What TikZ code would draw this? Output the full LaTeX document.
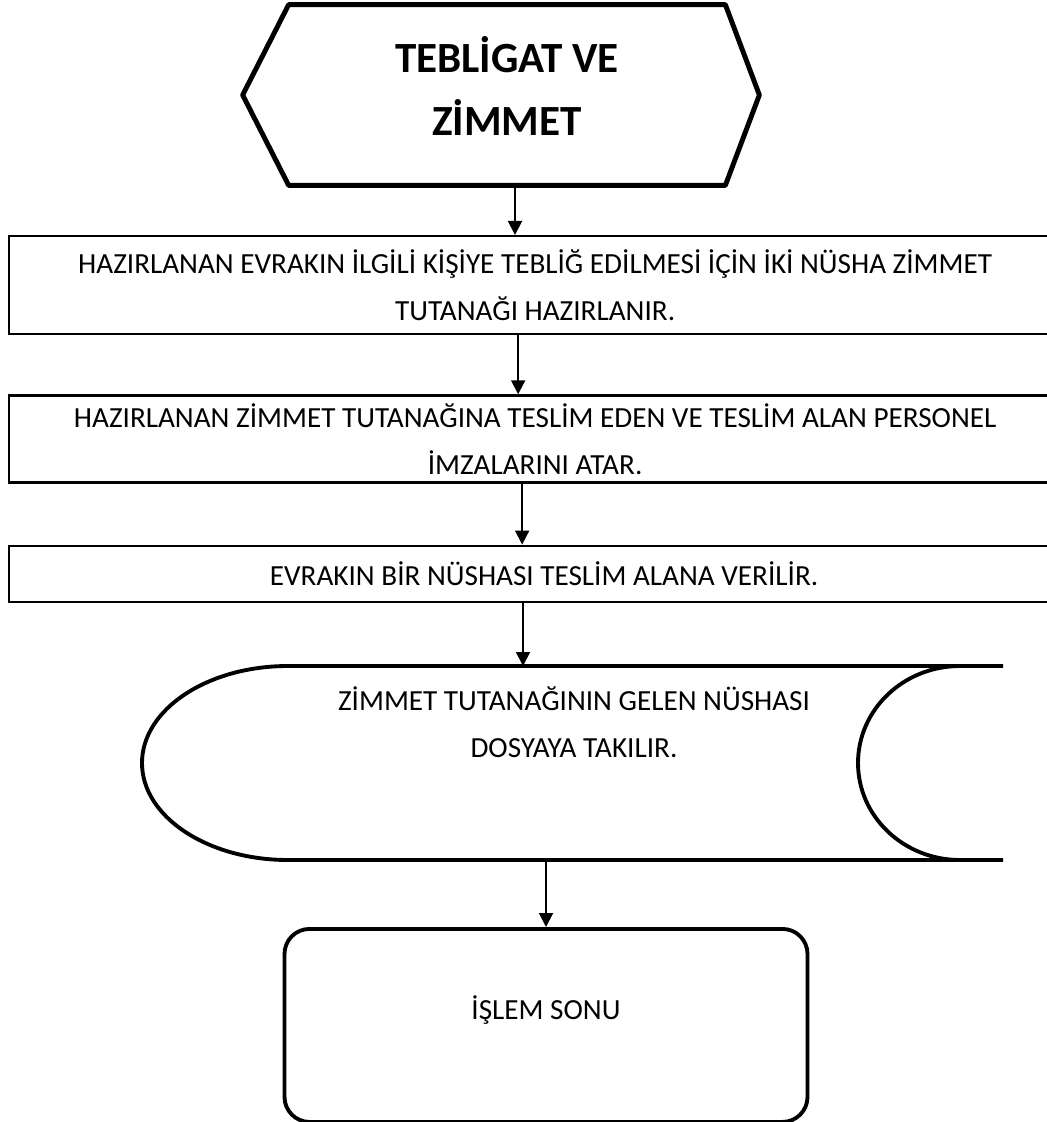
\documentclass[tikz,border=0pt]{standalone}
\usepackage{fontspec}
\setmainfont{Carlito}
\usepackage{tikz}
\usetikzlibrary{positioning}
\usetikzlibrary{arrows.meta}

\begin{document}
\begin{tikzpicture}[
		kutu/.style = {draw, line width = 1.3pt, inner sep = 0pt, align = center, font = \fontsize{16.6}{26.7}\selectfont},
		ok/.style = {line width = 1.1pt, -{Triangle[width = 0.28cm, length = 0.28cm]}},
		yazi/.style = {align = center, font = \fontsize{16.6}{26.7}\selectfont}
	]
			\useasboundingbox (0,0) rectangle (20.92,-22.44);
			% baslik
			\node[inner sep = 0pt, minimum width = 8.72cm, minimum height = 3.6cm, text depth = 0.35cm, align = center, font = \fontsize{24.5}{35.8}\bfseries] (baslik) at (10.14,-1.9) {TEBLİGAT VE\\ZİMMET};
			\draw[line width = 2.8pt, line join = round] (baslik.north west) -- (baslik.north east) -- ([xshift = 0.68cm]baslik.east) -- (baslik.south east) -- (baslik.south west) -- ([xshift = -0.92cm]baslik.west) -- cycle;
			% adimlar
			\node[kutu, minimum width = 21.04cm, minimum height = 1.96cm, anchor = north west] (ok1) at (0.16,-4.7) {HAZIRLANAN EVRAKIN İLGİLİ KİŞİYE TEBLİĞ EDİLMESİ İÇİN İKİ NÜSHA ZİMMET\\TUTANAĞI HAZIRLANIR.};
			\node[kutu, minimum width = 21.04cm, minimum height = 1.74cm, below = 1.18cm of ok1.south west, anchor = north west] (ok2) {HAZIRLANAN ZİMMET TUTANAĞINA TESLİM EDEN VE TESLİM ALAN PERSONEL\\İMZALARINI ATAR.};
			\node[kutu, minimum width = 21.4cm, minimum height = 1.12cm, below = 1.22cm of ok2.south west, anchor = north west] (ok3) {EVRAKIN BİR NÜSHASI TESLİM ALANA VERİLİR.};
			% arsiv
			\node[yazi] (arsiv) at (11.48,-14.44) {ZİMMET TUTANAĞININ GELEN NÜSHASI\\DOSYAYA TAKILIR.};
			\coordinate (arsivust) at (10.46,-13.32);
			\coordinate (arsivalt) at (10.92,-17.2);
			\draw[line width = 2.2pt] (20.06,-13.32) -- (5.76,-13.32) arc[start angle = 90, end angle = 270, x radius = 2.92, y radius = 1.94] -- (20.06,-17.2);
			\draw[line width = 2.2pt] (19.2,-13.32) arc[start angle = 90, end angle = 270, x radius = 2.04, y radius = 1.94];
			% son
			\node[draw, line width = 2.2pt, rounded corners = 0.5cm, minimum width = 10.46cm, minimum height = 3.86cm, text depth = 0.7cm, yazi, below = 1.34cm of arsivalt] (son) {İŞLEM SONU};
			% oklar
			\draw[ok] ([xshift = 0.16cm]baslik.south) -- ([xshift = 0.16cm]baslik.south |- ok1.north);
			\draw[ok] ([xshift = -0.34cm]ok1.south) -- ([xshift = -0.34cm]ok1.south |- ok2.north);
			\draw[ok] ([xshift = -0.26cm]ok2.south) -- ([xshift = -0.26cm]ok2.south |- ok3.north);
			\draw[ok] (ok3.south -| arsivust) -- (arsivust);
			\draw[ok] (arsivalt) -- (arsivalt |- son.north);
		\end{tikzpicture}
\end{document}
